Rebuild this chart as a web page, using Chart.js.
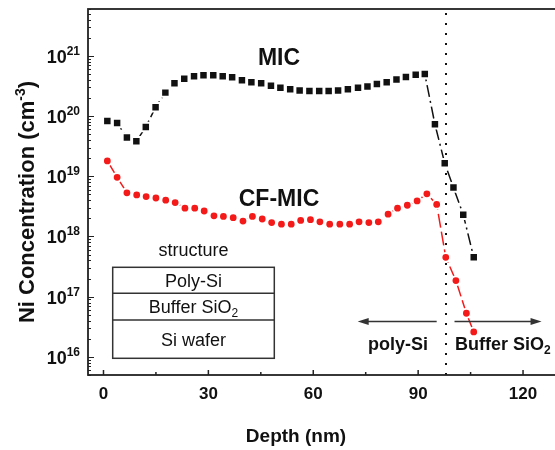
<!DOCTYPE html>
<html>
<head>
<meta charset="utf-8">
<script src="https://cdn.jsdelivr.net/npm/chart.js@4.4.1/dist/chart.umd.min.js"></script>
<style>
  html, body { margin: 0; padding: 0; background: #fff; overflow: hidden; width: 555px; height: 450px; }
  #wrap { position: relative; width: 570px; height: 450px; }
</style>
</head>
<body>
<div id="wrap"><canvas id="c" width="570" height="450"></canvas></div>
<script>
// Ni depth profiles (SIMS), depth in nm, concentration in cm^-3
const micDepth = [1.1, 3.9, 6.7, 9.4, 12.1, 14.9, 17.7, 20.3, 23.1, 25.9, 28.6, 31.4, 34.1, 36.8, 39.6,
  42.3, 45.1, 47.9, 50.6, 53.4, 56.1, 58.9, 61.7, 64.4, 67.1, 69.9, 72.8, 75.5, 78.2, 81.0,
  83.8, 86.5, 89.3, 91.9, 94.8, 97.6, 100.1, 102.9, 105.9];
const micConc = [8.3e19, 7.7e19, 4.4e19, 3.8e19, 6.6e19, 1.4e20, 2.45e20, 3.5e20, 4.15e20, 4.6e20,
  4.75e20, 4.75e20, 4.6e20, 4.4e20, 3.95e20, 3.65e20, 3.5e20, 3.2e20, 2.95e20, 2.8e20,
  2.65e20, 2.6e20, 2.6e20, 2.6e20, 2.65e20, 2.8e20, 2.95e20, 3.1e20, 3.4e20, 3.65e20,
  4.05e20, 4.45e20, 4.85e20, 5.0e20, 7.3e19, 1.65e19, 6.5e18, 2.3e18, 4.5e17];

const cfDepth = [1.1, 3.9, 6.7, 9.5, 12.2, 15.0, 17.8, 20.5, 23.3, 26.1, 28.8, 31.6, 34.3, 37.1, 39.9,
  42.6, 45.4, 48.1, 50.9, 53.7, 56.4, 59.2, 61.9, 64.7, 67.6, 70.4, 73.1, 75.9, 78.6, 81.4,
  84.1, 86.9, 89.7, 92.5, 95.3, 97.9, 100.8, 103.8, 105.9];
const cfConc = [1.8e19, 9.6e18, 5.3e18, 4.9e18, 4.6e18, 4.35e18, 4.0e18, 3.65e18, 2.95e18, 2.95e18,
  2.65e18, 2.2e18, 2.15e18, 2.05e18, 1.8e18, 2.15e18, 1.95e18, 1.7e18, 1.6e18, 1.6e18,
  1.85e18, 1.9e18, 1.75e18, 1.6e18, 1.6e18, 1.6e18, 1.75e18, 1.7e18, 1.75e18, 2.35e18,
  2.95e18, 3.3e18, 3.9e18, 5.1e18, 3.4e18, 4.5e17, 1.85e17, 5.3e16, 2.6e16];

// axis ticks
const xMajorTicks = [0, 30, 60, 90, 120];
const xMinorTicks = [15, 45, 75, 105];
const yDecades = [16, 17, 18, 19, 20, 21];

// poly-Si / buffer oxide interface depth (nm)
const interfaceDepth = 98;

// layer stack shown in the inset
const layers = ['Poly-Si', 'Buffer SiO|2', 'Si wafer'];

const FONT = '"Liberation Sans", Arial, Helvetica, sans-serif';

function toPoints(xs, ys) { return xs.map((x, i) => ({ x: x, y: ys[i] })); }

// text with optional sub/superscript segments: parts = [[text, size, dy], ...]
function richWidth(ctx, parts, weight) {
  let w = 0;
  for (const [t, s] of parts) { ctx.font = weight + ' ' + s + 'px ' + FONT; w += ctx.measureText(t).width; }
  return w;
}
function drawRich(ctx, parts, x, y, weight, align) {
  const w = richWidth(ctx, parts, weight);
  let cx = align === 'center' ? x - w / 2 : (align === 'right' ? x - w : x);
  ctx.textAlign = 'left';
  ctx.textBaseline = 'alphabetic';
  for (const [t, s, dy] of parts) {
    ctx.font = weight + ' ' + s + 'px ' + FONT;
    ctx.fillText(t, cx, y + (dy || 0));
    cx += ctx.measureText(t).width;
  }
}
function splitSub(label, size) {
  const [a, b] = label.split('|');
  return b ? [[a, size, 0], [b, Math.round(size * 0.65), 4]] : [[a, size, 0]];
}
function arrow(ctx, x1, x2, y) {
  const dir = Math.sign(x2 - x1);
  ctx.beginPath();
  ctx.moveTo(x1, y); ctx.lineTo(x2 - dir * 8, y); ctx.stroke();
  ctx.beginPath();
  ctx.moveTo(x2, y); ctx.lineTo(x2 - dir * 11, y - 3.5); ctx.lineTo(x2 - dir * 11, y + 3.5);
  ctx.closePath(); ctx.fill();
}

const interfaceLine = {
  id: 'interfaceLine',
  beforeDatasetsDraw(chart) {
    const { ctx, chartArea: a, scales: { x } } = chart;
    const px = Math.round(x.getPixelForValue(interfaceDepth));
    ctx.save();
    ctx.strokeStyle = '#111';
    ctx.lineWidth = 2;
    ctx.setLineDash([2, 8]);
    ctx.beginPath();
    ctx.moveTo(px, a.top + 4);
    ctx.lineTo(px, a.bottom);
    ctx.stroke();
    ctx.restore();
  }
};

const frameAndText = {
  id: 'frameAndText',
  afterDraw(chart) {
    const { ctx, chartArea: a, scales: { x, y } } = chart;
    ctx.save();
    ctx.fillStyle = '#111';
    ctx.strokeStyle = '#222';

    // frame
    ctx.lineWidth = 1.8;
    ctx.strokeRect(a.left, a.top, a.right - a.left, a.bottom - a.top);

    // x ticks (inward)
    ctx.lineWidth = 1.5;
    ctx.beginPath();
    for (const v of xMajorTicks) { const p = x.getPixelForValue(v); ctx.moveTo(p, a.bottom); ctx.lineTo(p, a.bottom - 5); }
    for (const v of xMinorTicks) { const p = x.getPixelForValue(v); ctx.moveTo(p, a.bottom); ctx.lineTo(p, a.bottom - 3); }
    ctx.stroke();

    // y ticks (inward), decades and minor
    ctx.lineWidth = 1.2;
    ctx.beginPath();
    for (let e = 15; e <= 21; e++) {
      for (let k = 1; k <= 9; k++) {
        const v = k * Math.pow(10, e);
        if (v < y.min || v > y.max) continue;
        const p = Math.round(y.getPixelForValue(v)) + 0.5;
        ctx.moveTo(a.left, p); ctx.lineTo(a.left + (k === 1 ? 6 : 3), p);
      }
    }
    ctx.stroke();

    // x tick labels
    ctx.font = 'bold 17px ' + FONT;
    ctx.textAlign = 'center';
    ctx.textBaseline = 'alphabetic';
    for (const v of xMajorTicks) ctx.fillText(String(v), x.getPixelForValue(v), 399);

    // y tick labels 10^n
    for (const e of yDecades) {
      const p = y.getPixelForValue(Math.pow(10, e));
      drawRich(ctx, [['10', 18, 0], [String(e), 12, -8]], 80, p + 7, 'bold', 'right');
    }

    // axis titles
    drawRich(ctx, [['Depth (nm)', 19, 0]], 296, 442, 'bold', 'center');
    ctx.save();
    ctx.translate(34, 202);
    ctx.rotate(-Math.PI / 2);
    drawRich(ctx, [['Ni Concentration (cm', 22, 0], ['-3', 14, -9], [')', 22, 0]], 0, 0, 'bold', 'center');
    ctx.restore();

    // series labels
    drawRich(ctx, [['MIC', 23, 0]], 279, 65, 'bold', 'center');
    drawRich(ctx, [['CF-MIC', 23, 0]], 279, 206, 'bold', 'center');

    // layer stack inset
    const bx0 = 112.7, bx1 = 274.3, rows = [267.3, 293.3, 320, 358.3];
    const bcx = (bx0 + bx1) / 2;
    drawRich(ctx, [['structure', 18, 0]], bcx, 256, 'normal', 'center');
    ctx.strokeStyle = '#333';
    ctx.lineWidth = 1.5;
    ctx.strokeRect(bx0, rows[0], bx1 - bx0, rows[3] - rows[0]);
    ctx.beginPath();
    ctx.moveTo(bx0, rows[1]); ctx.lineTo(bx1, rows[1]);
    ctx.moveTo(bx0, rows[2]); ctx.lineTo(bx1, rows[2]);
    ctx.stroke();
    layers.forEach((name, i) => {
      const mid = (rows[i] + rows[i + 1]) / 2;
      drawRich(ctx, splitSub(name, 18), bcx, mid + 6.5, 'normal', 'center');
    });

    // region arrows and labels
    ctx.strokeStyle = '#333';
    ctx.fillStyle = '#333';
    ctx.lineWidth = 1.5;
    const ay = 321.5;
    arrow(ctx, x.getPixelForValue(95.3), x.getPixelForValue(72.7), ay);
    arrow(ctx, x.getPixelForValue(100.4), x.getPixelForValue(125.3), ay);
    ctx.fillStyle = '#111';
    drawRich(ctx, [['poly-Si', 18, 0]], 398, 350, 'bold', 'center');
    drawRich(ctx, splitSub('Buffer SiO|2', 18), 455, 350, 'bold', 'left');

    ctx.restore();
  }
};

// markers carry a white rim so the connecting line stops short of each symbol
new Chart(document.getElementById('c'), {
  type: 'line',
  data: {
    datasets: [
      {
        label: 'MIC',
        data: toPoints(micDepth, micConc),
        borderColor: '#111',
        borderWidth: 1.5,
        borderDash: [12, 4, 2, 4],
        pointStyle: 'rect',
        pointRadius: 6,
        pointBorderWidth: 2,
        pointBackgroundColor: '#111',
        pointBorderColor: '#fff',
        tension: 0
      },
      {
        label: 'CF-MIC',
        data: toPoints(cfDepth, cfConc),
        borderColor: '#f51a1a',
        borderWidth: 1.5,
        borderDash: [14, 4],
        pointStyle: 'circle',
        pointRadius: 4.4,
        pointBorderWidth: 2,
        pointBackgroundColor: '#f51a1a',
        pointBorderColor: '#fff',
        tension: 0
      }
    ]
  },
  options: {
    responsive: false,
    animation: false,
    devicePixelRatio: 1,
    layout: { padding: { left: 88, top: 9, right: 12, bottom: 75 } },
    plugins: { legend: { display: false }, tooltip: { enabled: false } },
    scales: {
      x: { type: 'linear', min: -4.43, max: 130, display: false },
      y: { type: 'logarithmic', min: 5e15, max: 6e21, display: false }
    }
  },
  plugins: [interfaceLine, frameAndText]
});
</script>
</body>
</html>
